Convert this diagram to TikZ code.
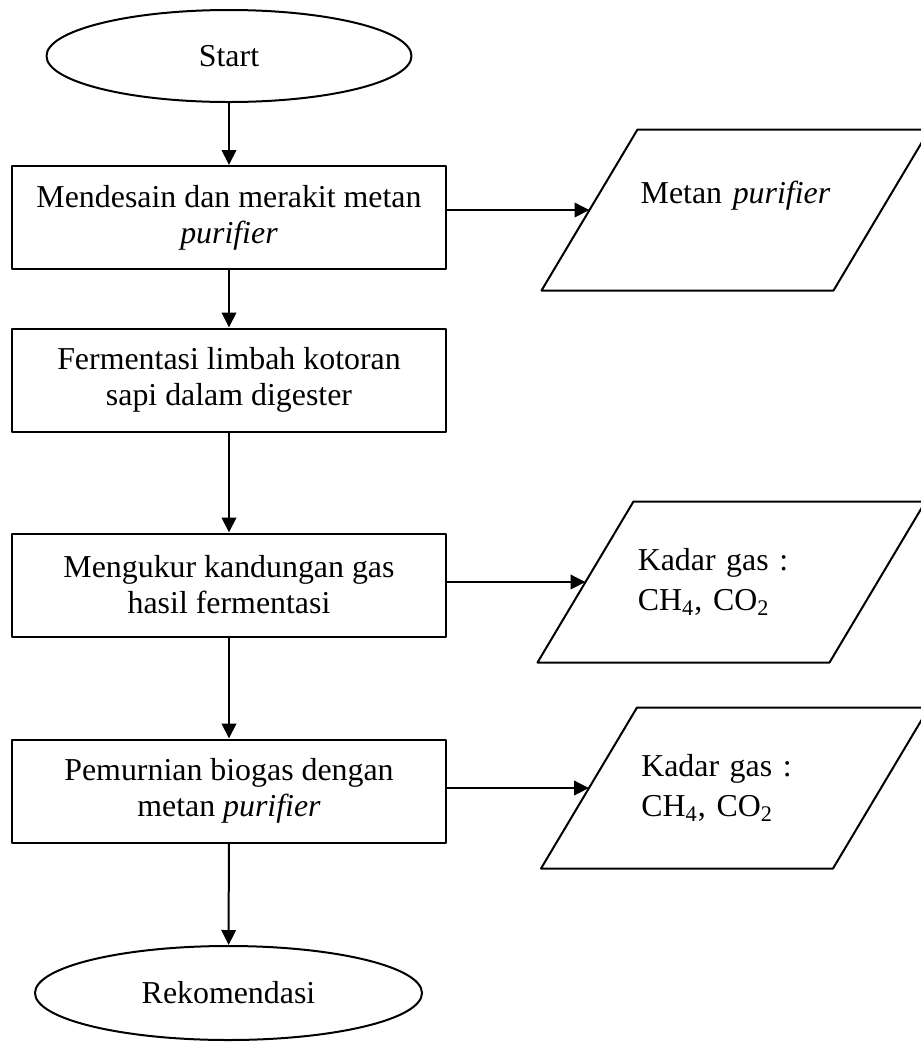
\documentclass[tikz,border=0pt]{standalone}
\usepackage{fontspec}
\setmainfont{Liberation Serif}
\usetikzlibrary{shapes.geometric,arrows.meta}
\tikzset{
	terminal/.style={draw,ellipse,line width=0.8pt,minimum width=146pt,minimum height=36.8pt,inner sep=0pt},
	process/.style={draw,rectangle,line width=0.8pt,minimum width=173.6pt,minimum height=41.2pt,align=center},
	dataout/.style={rectangle,minimum width=116.4pt,minimum height=64pt,text width=75pt,inner sep=0pt},
}
\begin{document}
\begin{tikzpicture}[x=0.4pt,y=-0.4pt,line join=round,>={Triangle[length=6pt,width=5.8pt]},
	font=\fontsize{12.75}{14.4}\selectfont]
	\useasboundingbox (0,0) rectangle (921,1042);
	\node[terminal] (start) at (229,56) {Start};
	\node[process] (desain) at (229,217.5) {Mendesain dan merakit metan\\ \textit{purifier}};
	\node[process] (fermen) at (229,380) {Fermentasi limbah kotoran\\ sapi dalam digester};
	\node[process] (ukur) at (229,585) {Mengukur kandungan gas\\ hasil fermentasi};
	\node[process] (murni) at (229,791) {Pemurnian biogas dengan\\ metan \textit{purifier}};
	\node[terminal,minimum width=154.8pt,minimum height=37.6pt] (rekom) at (228.5,993) {Rekomendasi};
	\node[dataout,text width=90pt,align=center] (hasil1) at (735.5,210) {Metan \textit{purifier}\\ \mbox{}};
	\node[dataout,align=left] (hasil2) at (731.5,582) {Kadar gas :\\[1.6pt] CH\textsubscript{4}, CO\textsubscript{2}};
	\node[dataout,align=left] (hasil3) at (735,788) {Kadar gas :\\[1.6pt] CH\textsubscript{4}, CO\textsubscript{2}};
	% jajar genjang keluaran
	\foreach \h in {hasil1,hasil2,hasil3}
		\draw[line width=0.8pt] ([xshift=-19.2pt]\h.south west) -- ([xshift=19.2pt]\h.north west)
			-- ([xshift=19.2pt]\h.north east) -- ([xshift=-19.2pt]\h.south east) -- cycle;
	% alur utama
	\draw[->,line width=0.8pt] (start) -- (desain);
	\draw[->,line width=0.8pt] (desain) -- (fermen);
	\draw[->,line width=0.8pt] (fermen) -- (ukur);
	\draw[->,line width=0.8pt] (ukur) -- (murni);
	\draw[->,line width=0.8pt] (murni) -- (rekom);
	% keluaran
	\draw[->,line width=0.8pt] (desain.east |- hasil1.west) -- (hasil1.west);
	\draw[->,line width=0.8pt] (ukur.east |- hasil2.west) -- (hasil2.west);
	\draw[->,line width=0.8pt] (murni.east |- hasil3.west) -- (hasil3.west);
\end{tikzpicture}
\end{document}
